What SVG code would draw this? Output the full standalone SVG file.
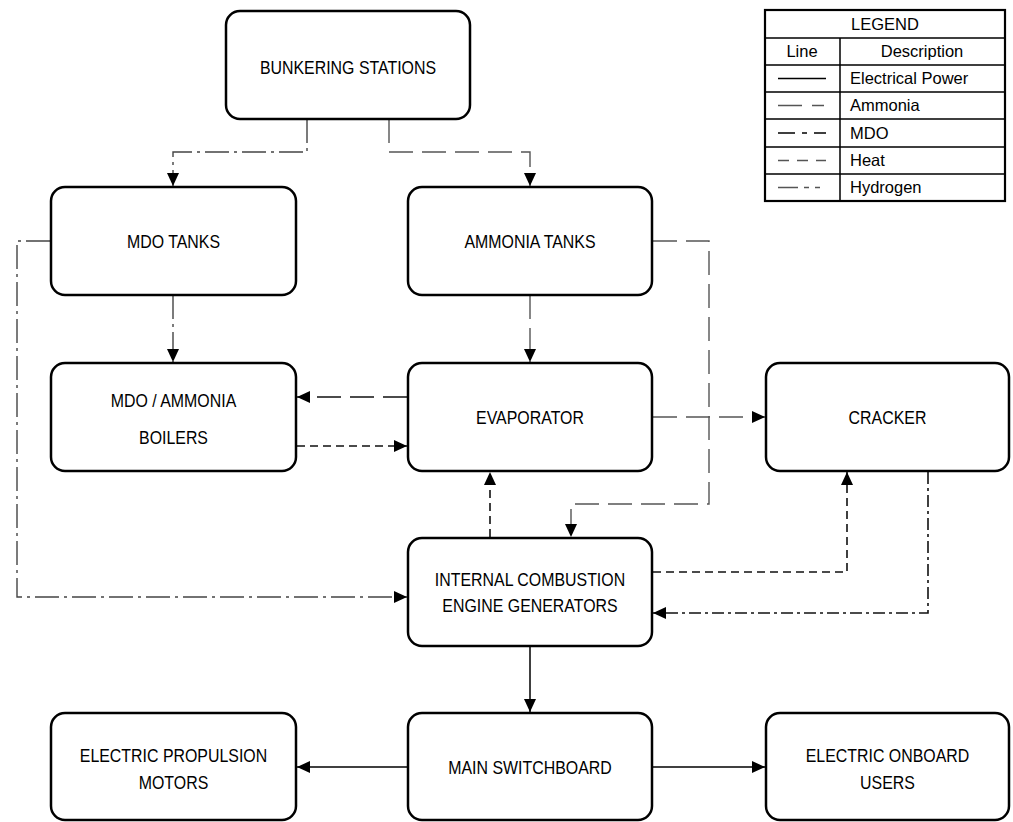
<svg xmlns="http://www.w3.org/2000/svg" width="1013" height="822" viewBox="0 0 1013 822">
<style>
.box{fill:#fff;stroke:#000;stroke-width:2.5}
.lbl{font-family:"Liberation Sans",Arial,sans-serif;font-size:18.5px;text-anchor:middle;fill:#000}
.lg{font-family:"Liberation Sans",Arial,sans-serif;font-size:16.5px;fill:#000}
.c{fill:none;stroke-width:1.4}
.power{stroke:#000;stroke-width:1.5}
.ammonia{stroke:#555;stroke-dasharray:24 9}
.mdo{stroke:#444;stroke-dasharray:24 5 3 5}
.heat{stroke:#111;stroke-width:1.6;stroke-dasharray:8 5}
.hyd{stroke:#111;stroke-width:1.6;stroke-dasharray:12 4 3 4}
.grid{stroke:#000;stroke-width:1.5;fill:none}
</style>
<defs>
<marker id="ah" markerUnits="userSpaceOnUse" markerWidth="13" markerHeight="13" refX="13" refY="6.5" orient="auto">
<path d="M0,0.5 L13,6.5 L0,12.5 z" fill="#000"/>
</marker>
</defs>
<rect width="1013" height="822" fill="#fff"/>

<g id="connectors">
<path class="c mdo" d="M307 119 V152 H173 V186" marker-end="url(#ah)"/>
<path class="c ammonia" d="M389 119 V152 H530 V186" marker-end="url(#ah)"/>
<path class="c mdo" d="M173 295 V362" marker-end="url(#ah)"/>
<path class="c ammonia" d="M530 295 V362" marker-end="url(#ah)"/>
<path class="c ammonia" style="stroke:#111" d="M407 397 H297" marker-end="url(#ah)"/>
<path class="c heat" d="M297 446 H407" marker-end="url(#ah)"/>
<path class="c ammonia" d="M653 417 H765" marker-end="url(#ah)"/>
<path class="c ammonia" d="M653 241 H709 V504 H571 V537" marker-end="url(#ah)"/>
<path class="c heat" d="M490 537 V472" marker-end="url(#ah)"/>
<path class="c heat" d="M653 572 H847 V472" marker-end="url(#ah)"/>
<path class="c hyd" d="M928 472 V613 H653" marker-end="url(#ah)"/>
<path class="c mdo" d="M50 241 H17 V597 H407" marker-end="url(#ah)"/>
<path class="c power" d="M530 647 V712" marker-end="url(#ah)"/>
<path class="c power" d="M407 767 H297" marker-end="url(#ah)"/>
<path class="c power" d="M653 767 H765" marker-end="url(#ah)"/>
</g>

<g id="bunkering">
<rect class="box" x="226" y="11" width="244" height="108" rx="14"/>
<text class="lbl" transform="translate(348 74) scale(0.86 1)">BUNKERING STATIONS</text>
</g>
<g id="mdo-tanks">
<rect class="box" x="51" y="187" width="245" height="108" rx="14"/>
<text class="lbl" transform="translate(173.5 248) scale(0.86 1)">MDO TANKS</text>
</g>
<g id="ammonia-tanks">
<rect class="box" x="408" y="187" width="244" height="108" rx="14"/>
<text class="lbl" transform="translate(530 248) scale(0.86 1)">AMMONIA TANKS</text>
</g>
<g id="boilers">
<rect class="box" x="51" y="363" width="245" height="108" rx="14"/>
<text class="lbl" transform="translate(173.5 407) scale(0.86 1)">MDO / AMMONIA</text>
<text class="lbl" transform="translate(173.5 444) scale(0.86 1)">BOILERS</text>
</g>
<g id="evaporator">
<rect class="box" x="408" y="363" width="244" height="108" rx="14"/>
<text class="lbl" transform="translate(530 424) scale(0.86 1)">EVAPORATOR</text>
</g>
<g id="cracker">
<rect class="box" x="766" y="363" width="243" height="108" rx="14"/>
<text class="lbl" transform="translate(887.5 424) scale(0.86 1)">CRACKER</text>
</g>
<g id="ice-generators">
<rect class="box" x="408" y="538" width="244" height="108" rx="14"/>
<text class="lbl" transform="translate(530 586) scale(0.86 1)">INTERNAL COMBUSTION</text>
<text class="lbl" transform="translate(530 612) scale(0.86 1)">ENGINE GENERATORS</text>
</g>
<g id="propulsion-motors">
<rect class="box" x="51" y="713" width="245" height="107" rx="14"/>
<text class="lbl" transform="translate(173.5 762) scale(0.86 1)">ELECTRIC PROPULSION</text>
<text class="lbl" transform="translate(173.5 789) scale(0.86 1)">MOTORS</text>
</g>
<g id="main-switchboard">
<rect class="box" x="408" y="713" width="244" height="107" rx="14"/>
<text class="lbl" transform="translate(530 774) scale(0.86 1)">MAIN SWITCHBOARD</text>
</g>
<g id="onboard-users">
<rect class="box" x="766" y="713" width="243" height="107" rx="14"/>
<text class="lbl" transform="translate(887.5 762) scale(0.86 1)">ELECTRIC ONBOARD</text>
<text class="lbl" transform="translate(887.5 789) scale(0.86 1)">USERS</text>
</g>

<g id="legend">
<rect x="765" y="10" width="240" height="191" fill="#fff" stroke="#000" stroke-width="2.2"/>
<path class="grid" d="M765 38 H1005 M765 65 H1005 M765 92 H1005 M765 119 H1005 M765 147 H1005 M765 174 H1005 M840 38 V201"/>
<text class="lg" x="885" y="30" text-anchor="middle">LEGEND</text>
<text class="lg" x="802" y="57" text-anchor="middle">Line</text>
<text class="lg" x="922" y="57" text-anchor="middle">Description</text>
<text class="lg" x="850" y="84">Electrical Power</text>
<text class="lg" x="850" y="111">Ammonia</text>
<text class="lg" x="850" y="139">MDO</text>
<text class="lg" x="850" y="166">Heat</text>
<text class="lg" x="850" y="193">Hydrogen</text>
<line x1="778" y1="78.5" x2="826" y2="78.5" stroke="#000" stroke-width="1.4"/>
<line x1="778" y1="105.5" x2="824" y2="105.5" stroke="#555" stroke-width="1.3" stroke-dasharray="24 10"/>
<line x1="778" y1="133" x2="826" y2="133" stroke="#000" stroke-width="1.4" stroke-dasharray="17 7 5 7"/>
<line x1="778" y1="160.5" x2="826" y2="160.5" stroke="#555" stroke-width="1.3" stroke-dasharray="11 8"/>
<line x1="778" y1="187.5" x2="826" y2="187.5" stroke="#555" stroke-width="1.3" stroke-dasharray="20 6 5 6 5 6"/>
</g>
</svg>
